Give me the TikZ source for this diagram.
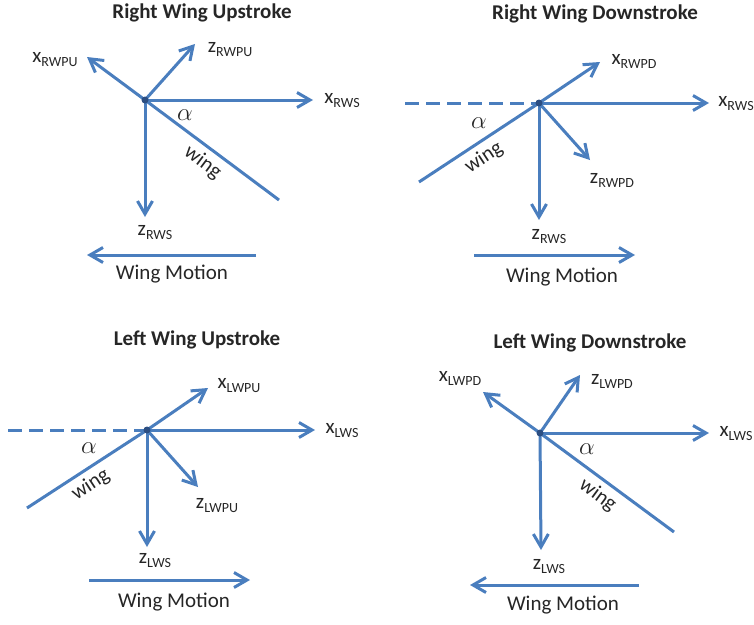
\documentclass[tikz,border=0pt]{standalone}
\usepackage{fontspec}
\setmainfont{Carlito}
\usetikzlibrary{arrows.meta}
\definecolor{axisblue}{RGB}{74,126,190}
\definecolor{dotblue}{RGB}{44,78,130}
\newcommand*{\axisName}[2]{#1\raisebox{-0.4ex}{\fontsize{14}{14}\selectfont #2}}% letter, subscript
\newcommand*{\alphaSize}{\fontsize{26}{26}\selectfont}

\begin{document}
\begin{tikzpicture}[x=1pt, y=-1pt,
    axis/.style={draw=axisblue, line width=3pt, -{Straight Barb[length=13pt,width=15pt]}},
    wingline/.style={draw=axisblue, line width=3pt},
    dashline/.style={draw=axisblue, line width=3pt, dash pattern=on 14pt off 7pt},
    dot/.style={circle, fill=dotblue, inner sep=0pt, minimum size=7pt},
    title/.style={font=\bfseries\fontsize{21}{21}\selectfont, text=black!85},
    lbl/.style={font=\fontsize{21}{21}\selectfont, text=black!85, inner sep=0pt},
    wingtext/.style={sloped, below=4pt, inner sep=1pt, font=\fontsize{21}{21}\selectfont, text=black!85}]
\useasboundingbox (0,0) rectangle (754,624);

% Right Wing Upstroke
\node (t1) at (202,13) [title] {Right Wing Upstroke};
\coordinate (o1) at (145,100);
\coordinate (xs1) at (313,100);
\coordinate (xp1) at (87,57);
\coordinate (zp1) at (195,44);
\coordinate (zs1) at (145,217);
\coordinate (w1) at (279,200);
\coordinate (ma1) at (256,255);
\coordinate (mb1) at (87,255);
\draw [axis] (o1) -- (xs1);
\draw [axis] (o1) -- (xp1);
\draw [axis] (o1) -- (zp1);
\draw [axis] (o1) -- (zs1);
\draw [wingline] (o1) -- (w1) node [wingtext, pos=0.5] {wing};
\draw [axis] (ma1) -- (mb1);
\node (lxs1) at (342,101) [lbl] {\axisName{x}{RWS}};
\node (lxp1) at (55,60) [lbl] {\axisName{x}{RWPU}};
\node (lzp1) at (230,50) [lbl] {\axisName{z}{RWPU}};
\node (lzs1) at (155,233) [lbl] {\axisName{z}{RWS}};
\node (al1) at (185,115) [lbl] {\alphaSize$\alpha$};
\node (wm1) at (172,274) [lbl] {Wing Motion};
\node [dot] (d1) at (o1) {};

% Right Wing Downstroke
\node (t2) at (595,14) [title] {Right Wing Downstroke};
\coordinate (o2) at (539,103);
\coordinate (ds2) at (405,103);
\coordinate (xs2) at (709,103);
\coordinate (xp2) at (600,62);
\coordinate (zp2) at (590,160);
\coordinate (zs2) at (539,220);
\coordinate (w2) at (419,182);
\coordinate (ma2) at (474,255);
\coordinate (mb2) at (635,255);
\draw [dashline] (ds2) -- (o2);
\draw [axis] (o2) -- (xs2);
\draw [axis] (o2) -- (xp2);
\draw [axis] (o2) -- (zp2);
\draw [axis] (o2) -- (zs2);
\draw [wingline] (w2) -- (o2) node [wingtext, pos=0.47] {wing};
\draw [axis] (ma2) -- (mb2);
\node (lxs2) at (736,104) [lbl] {\axisName{x}{RWS}};
\node (lxp2) at (634,61) [lbl] {\axisName{x}{RWPD}};
\node (lzp2) at (612,180) [lbl] {\axisName{z}{RWPD}};
\node (lzs2) at (549,237) [lbl] {\axisName{z}{RWS}};
\node (al2) at (479,123) [lbl] {\alphaSize$\alpha$};
\node (wm2) at (562,277) [lbl] {Wing Motion};
\node [dot] (d2) at (o2) {};

% Left Wing Upstroke
\node (t3) at (197,340) [title] {Left Wing Upstroke};
\coordinate (o3) at (147,430);
\coordinate (ds3) at (8,430);
\coordinate (xs3) at (315,430);
\coordinate (xp3) at (208,388);
\coordinate (zp3) at (198,487);
\coordinate (zs3) at (147,547);
\coordinate (w3) at (27,508);
\coordinate (ma3) at (89,580);
\coordinate (mb3) at (250,580);
\draw [dashline] (ds3) -- (o3);
\draw [axis] (o3) -- (xs3);
\draw [axis] (o3) -- (xp3);
\draw [axis] (o3) -- (zp3);
\draw [axis] (o3) -- (zs3);
\draw [wingline] (w3) -- (o3) node [wingtext, pos=0.46] {wing};
\draw [axis] (ma3) -- (mb3);
\node (lxs3) at (342,431) [lbl] {\axisName{x}{LWS}};
\node (lxp3) at (239,386) [lbl] {\axisName{x}{LWPU}};
\node (lzp3) at (217,506) [lbl] {\axisName{z}{LWPU}};
\node (lzs3) at (155,561) [lbl] {\axisName{z}{LWS}};
\node (al3) at (89,448) [lbl] {\alphaSize$\alpha$};
\node (wm3) at (174,602) [lbl] {Wing Motion};
\node [dot] (d3) at (o3) {};

% Left Wing Downstroke
\node (t4) at (590,343) [title] {Left Wing Downstroke};
\coordinate (o4) at (540,433);
\coordinate (xs4) at (709,433);
\coordinate (xp4) at (483,392);
\coordinate (zp4) at (580,375);
\coordinate (zs4) at (541,550);
\coordinate (w4) at (674,532);
\coordinate (ma4) at (639,585);
\coordinate (mb4) at (470,585);
\draw [axis] (o4) -- (xs4);
\draw [axis] (o4) -- (xp4);
\draw [axis] (o4) -- (zp4);
\draw [axis] (o4) -- (zs4);
\draw [wingline] (o4) -- (w4) node [wingtext, pos=0.5] {wing};
\draw [axis] (ma4) -- (mb4);
\node (lxs4) at (736,434) [lbl] {\axisName{x}{LWS}};
\node (lxp4) at (460,378) [lbl] {\axisName{x}{LWPD}};
\node (lzp4) at (612,381) [lbl] {\axisName{z}{LWPD}};
\node (lzs4) at (549,567) [lbl] {\axisName{z}{LWS}};
\node (al4) at (587,449) [lbl] {\alphaSize$\alpha$};
\node (wm4) at (563,605) [lbl] {Wing Motion};
\node [dot] (d4) at (o4) {};
\end{tikzpicture}
\end{document}
